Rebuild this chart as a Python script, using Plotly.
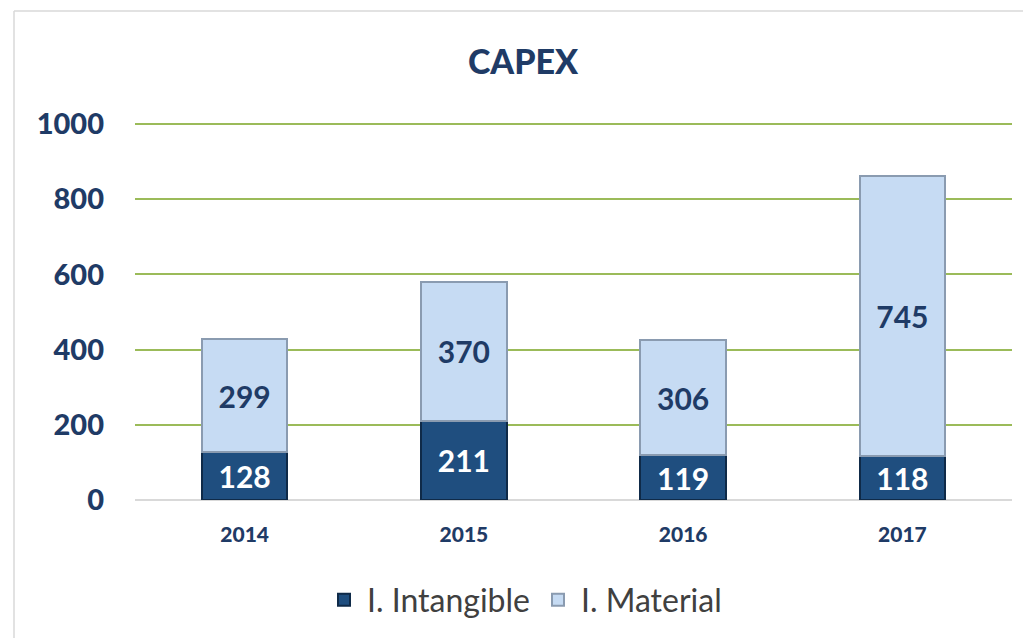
import plotly.graph_objects as go

years = ["2014", "2015", "2016", "2017"]
intangible = [128, 211, 119, 118]
material = [299, 370, 306, 745]
y_ticks = [0, 200, 400, 600, 800, 1000]

W, H = 1023, 638
ml, mr, mt, mb = 135, 11, 120, 138
y_top = 1000 * (H - mt - mb) / (H - 124 - mb)

fig = go.Figure()
fig.add_trace(go.Bar(
    x=years, y=intangible, name="I. Intangible",
    marker=dict(color="#1f4e7f", line=dict(color="#0f2a48", width=2)),
    text=intangible, textposition="inside", insidetextanchor="middle",
    textfont=dict(family="Lato", size=30, color="white", weight="bold"),
    width=0.39,
))
fig.add_trace(go.Bar(
    x=years, y=material, name="I. Material",
    marker=dict(color="#c6dbf3", line=dict(color="#8a9bb0", width=2)),
    text=material, textposition="inside", insidetextanchor="middle",
    textfont=dict(family="Lato", size=30, color="#1f3b66", weight="bold"),
    width=0.39,
))

def px_x(p):
    return (p - ml) / (W - ml - mr)

def px_y(p):
    return (H - mb - p) / (H - mt - mb)

fig.update_layout(
    barmode="stack",
    width=W, height=H,
    margin=dict(l=ml, r=mr, t=mt, b=mb),
    paper_bgcolor="white", plot_bgcolor="white",
    title=dict(text="CAPEX", x=523 / W, xref="container", xanchor="center",
               y=1 - 62 / H, yanchor="middle",
               font=dict(family="Lato", size=34, color="#1f3b66", weight=900)),
    xaxis=dict(tickfont=dict(family="Lato", size=21, color="#1f3b66", weight=900),
               showgrid=False, showline=False, ticks="", ticklabelstandoff=20),
    yaxis=dict(range=[0, y_top], tickvals=y_ticks,
               tickfont=dict(family="Lato", size=29, color="#1f3b66", weight=900),
               showgrid=True, gridcolor="#9bbb59", gridwidth=2,
               zeroline=True, zerolinecolor="#d9d9d9", zerolinewidth=2,
               ticklabelstandoff=30, showline=False),
    legend=dict(orientation="h", x=px_x(524), xanchor="center", xref="paper",
                y=px_y(600), yanchor="middle",
                font=dict(family="Lato", size=32, color="#404040"),
                traceorder="normal", itemwidth=36),
    bargap=0.61,
    showlegend=True,
)

fig.add_shape(type="line", xref="paper", yref="paper",
              x0=px_x(14), x1=px_x(W + 5), y0=px_y(11), y1=px_y(11),
              line=dict(color="#d9d9d9", width=1.5))
fig.add_shape(type="line", xref="paper", yref="paper",
              x0=px_x(14), x1=px_x(14), y0=px_y(11), y1=px_y(H + 5),
              line=dict(color="#d9d9d9", width=1.5))

fig.write_html("out.html")
